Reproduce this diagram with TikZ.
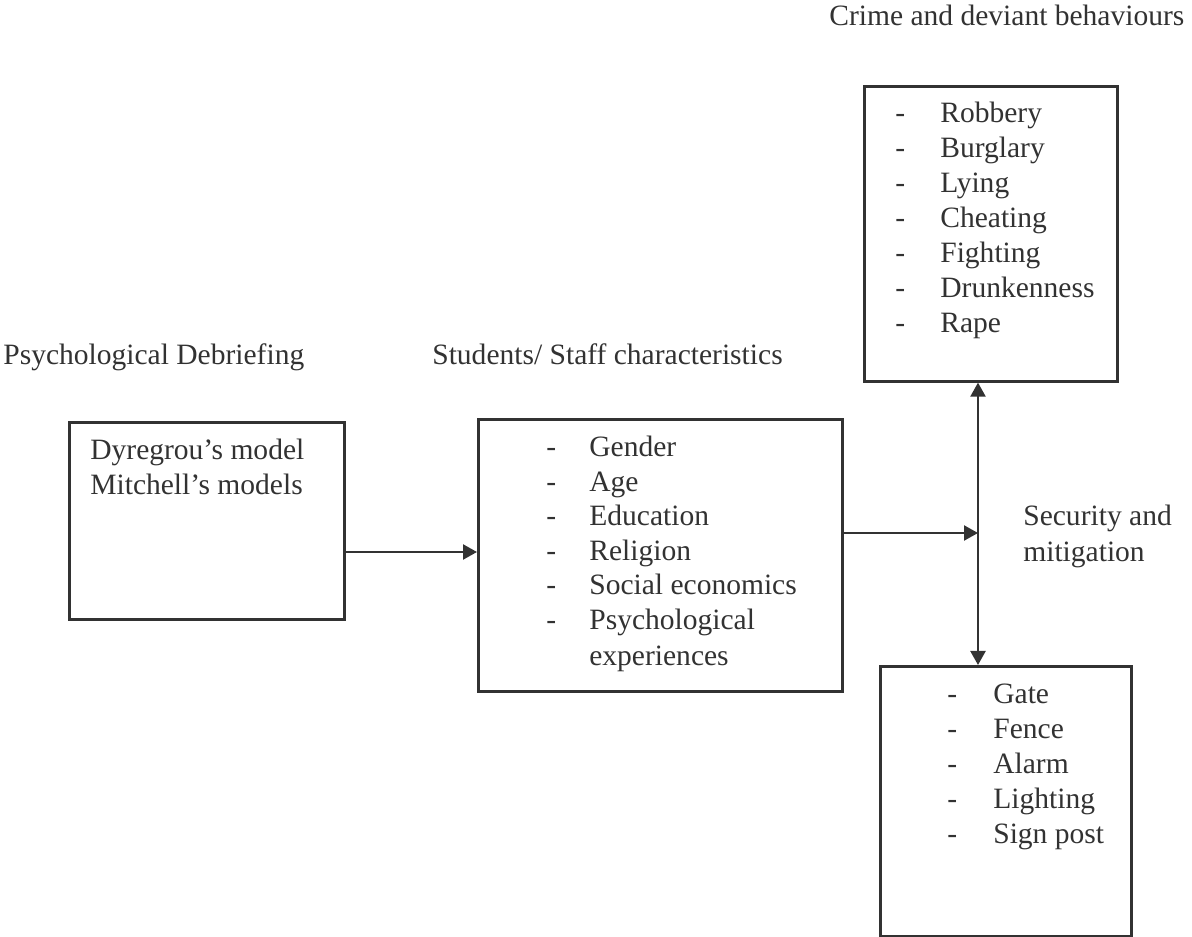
\documentclass[tikz,border=0pt]{standalone}
\usepackage{fontspec}
\setmainfont{Liberation Serif}
\usetikzlibrary{arrows.meta}
\definecolor{InkGray}{RGB}{50,50,50}

\begin{document}
\begin{tikzpicture}[x=0.2mm,y=-0.2mm]
      \tikzstyle{box}=[draw=InkGray, line width=1.5pt, rectangle, inner sep=0pt, anchor=north west];
      \tikzstyle{txt}=[text=InkGray, anchor=base west, inner sep=0pt, font=\fontsize{16.8}{20}\selectfont];
      \tikzstyle{link}=[draw=InkGray, line width=1.3pt, >={Triangle[length=2.8mm,width=3mm]}];

      \useasboundingbox (0,0) rectangle (1192,937);

      % boxes
      \node[box, minimum width=55mm, minimum height=39.4mm] (debrief) at (68,421) {};
      \node[box, minimum width=72.8mm, minimum height=54.4mm] (traits) at (477,418) {};
      \node[box, minimum width=50.6mm, minimum height=59mm] (crime) at (863,85) {};
      \node[box, minimum width=50.2mm, minimum height=54mm] (safety) at (879,665) {};

      % titles
      \node[txt] (debrief-title) at (3,365) {Psychological Debriefing};
      \node[txt] (traits-title) at (432,365) {Students/ Staff characteristics};
      \node[txt] (crime-title) at (829,26) {Crime and deviant behaviours};
      \node[txt] (security-1) at (1023,526) {Security and};
      \node[txt] (security-2) at (1023,562) {mitigation};

      % box contents
      \node[txt] (debrief-1) at (90,460) {Dyregrou’s model};
      \node[txt] (debrief-2) at (90,495) {Mitchell’s models};

      \foreach \entry [count=\i from 0] in {Gender, Age, Education, Religion, Social economics, Psychological} {
        \node[txt] (traits-d\i) at (546,457+34.5*\i) {-};
        \node[txt] (traits-\i) at (589,457+34.5*\i) {\entry};
      }
      \node[txt] (traits-6) at (589,665) {experiences};

      \foreach \entry [count=\i from 0] in {Robbery, Burglary, Lying, Cheating, Fighting, Drunkenness, Rape} {
        \node[txt] (crime-d\i) at (895,123+35*\i) {-};
        \node[txt] (crime-\i) at (940,123+35*\i) {\entry};
      }

      \foreach \entry [count=\i from 0] in {Gate, Fence, Alarm, Lighting, Sign post} {
        \node[txt] (safety-d\i) at (947,703+35*\i) {-};
        \node[txt] (safety-\i) at (993,703+35*\i) {\entry};
      }

      % connectors
      \coordinate (hub) at (978,533);
      \draw[link, ->] (debrief.east |- 0,552) -- (traits.west |- 0,552);
      \draw[link, ->] (traits.east |- hub) -- (hub);
      \draw[link, <->] (crime.south -| hub) -- (safety.north -| hub);
\end{tikzpicture}
\end{document}
